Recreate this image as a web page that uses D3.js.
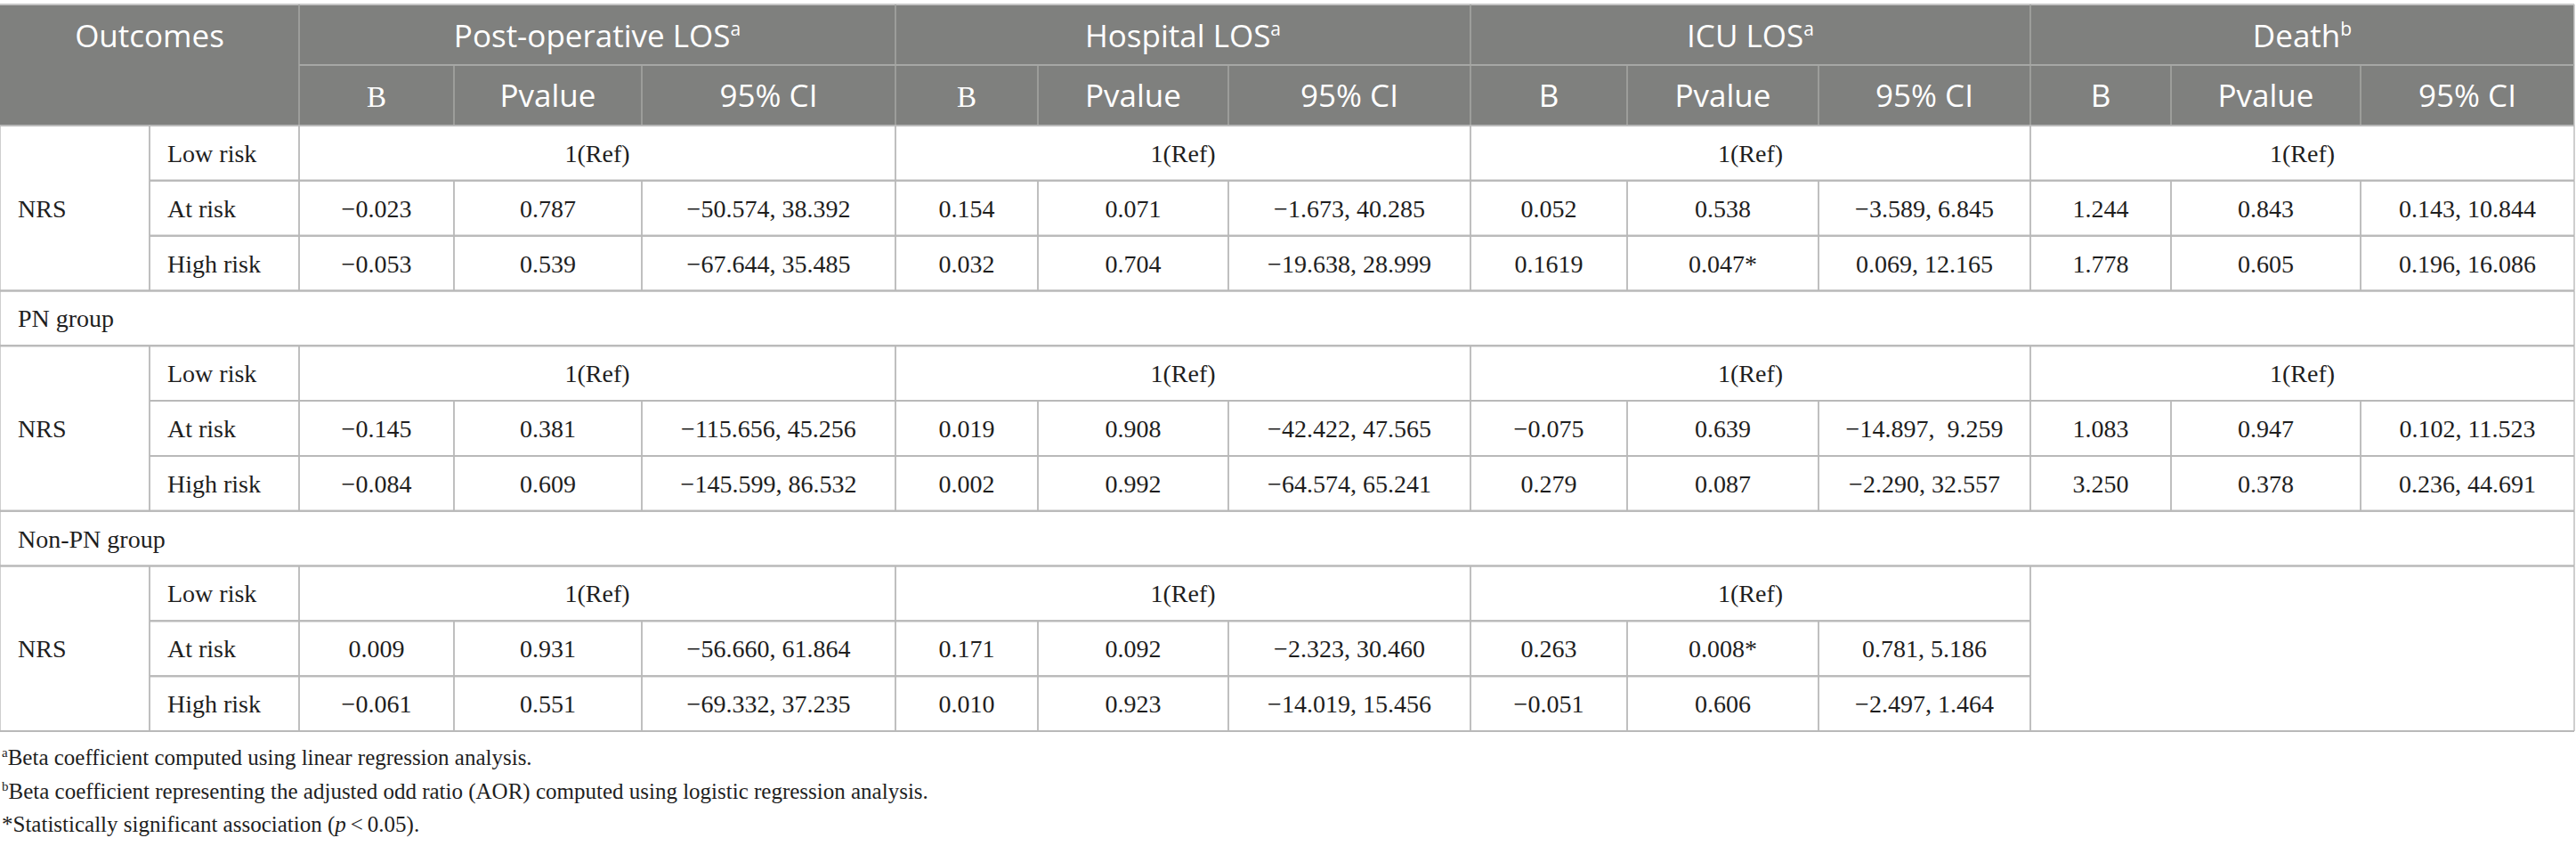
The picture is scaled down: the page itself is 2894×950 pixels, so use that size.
<!DOCTYPE html>
<html><head><meta charset="utf-8">
<script src="https://cdn.jsdelivr.net/npm/d3@7"></script>
<style>body{margin:0;background:#fff}svg{display:block}</style>
</head><body><svg id="chart"></svg>
<script>
// ---------- DATA ----------
const stubHeader = "Outcomes";
const outcomes = ["Post-operative LOS", "Hospital LOS", "ICU LOS", "Death"];
const outcomeNotes = ["a", "a", "a", "b"];
const statLabels = ["B", "Pvalue", "95% CI"];
const scaleName = "NRS";
const riskLevels = ["Low risk", "At risk", "High risk"];
const refLabel = "1(Ref)";
const groupLabels = ["PN group", "Non-PN group"];

// rows: [At risk, High risk]; columns follow outcomes
const allB  = [["−0.023", "0.154", "0.052", "1.244"], ["−0.053", "0.032", "0.1619", "1.778"]];
const allP  = [["0.787", "0.071", "0.538", "0.843"], ["0.539", "0.704", "0.047*", "0.605"]];
const allCI = [["−50.574, 38.392", "−1.673, 40.285", "−3.589, 6.845", "0.143, 10.844"],
               ["−67.644, 35.485", "−19.638, 28.999", "0.069, 12.165", "0.196, 16.086"]];

const pnB  = [["−0.145", "0.019", "−0.075", "1.083"], ["−0.084", "0.002", "0.279", "3.250"]];
const pnP  = [["0.381", "0.908", "0.639", "0.947"], ["0.609", "0.992", "0.087", "0.378"]];
const pnCI = [["−115.656, 45.256", "−42.422, 47.565", "−14.897,  9.259", "0.102, 11.523"],
              ["−145.599, 86.532", "−64.574, 65.241", "−2.290, 32.557", "0.236, 44.691"]];

const nonB  = [["0.009", "0.171", "0.263", null], ["−0.061", "0.010", "−0.051", null]];
const nonP  = [["0.931", "0.092", "0.008*", null], ["0.551", "0.923", "0.606", null]];
const nonCI = [["−56.660, 61.864", "−2.323, 30.460", "0.781, 5.186", null],
               ["−69.332, 37.235", "−14.019, 15.456", "−2.497, 1.464", null]];

const footnoteMarks = ["a", "b", ""];
const footnoteTexts = ["Beta coefficient computed using linear regression analysis.",
  "Beta coefficient representing the adjusted odd ratio (AOR) computed using logistic regression analysis.",
  "*Statistically significant association ("];
const footnoteTail = ["", "", "\u2009<\u20090.05)."];

// ---------- LAYOUT ----------
const W = 2894, H = 950;
const colEdges = [0, 168, 336, 510, 721, 1006, 1166, 1380, 1652, 1828, 2043, 2281, 2439, 2652, 2892];
const headTop = 5, headMid = 73, headBot = 141, bodyBot = 821;
const sans = "'Open Sans', 'Noto Sans', sans-serif";
const serif = "'Liberation Serif', 'Times New Roman', serif";
const headBg = "#7f807e", headLine = "#a6a7a5", bodyLine = "#b9b9b9", ink = "#1e1e1e";

const svg = d3.select("#chart").attr("width", W).attr("height", H);

const x = d3.scaleOrdinal().domain(d3.range(colEdges.length)).range(colEdges);
const y = d3.scaleBand().domain(d3.range(11)).range([headBot, bodyBot]).paddingInner(0).paddingOuter(0);
const yTop = r => y(r);
const yBot = r => y(r) + y.bandwidth();

// ---------- HEADER ----------
const head = svg.append("g");
head.append("rect").attr("x", x(0)).attr("y", headTop)
  .attr("width", x(14) - x(0)).attr("height", headBot - headTop).attr("fill", headBg);
head.append("line").attr("x1", 0).attr("x2", x(14)).attr("y1", headTop).attr("y2", headTop)
  .attr("stroke", "#c6c6c6").attr("stroke-width", 2);
head.append("line").attr("x1", x(14)).attr("x2", x(14)).attr("y1", headTop).attr("y2", headBot)
  .attr("stroke", "#c6c6c6").attr("stroke-width", 1.5);
head.append("line").attr("x1", x(2)).attr("x2", x(14)).attr("y1", headMid).attr("y2", headMid)
  .attr("stroke", headLine).attr("stroke-width", 2);

outcomes.forEach((o, i) => {
  const c0 = 2 + i * 3, c1 = c0 + 3;
  head.append("line").attr("x1", x(c0)).attr("x2", x(c0)).attr("y1", headTop).attr("y2", headBot)
    .attr("stroke", headLine).attr("stroke-width", 1.5);
  const t = head.append("text").attr("x", (x(c0) + x(c1)) / 2).attr("y", 53)
    .attr("text-anchor", "middle").attr("fill", "#fff").attr("font-family", sans).attr("font-size", 35);
  t.append("tspan").text(o);
  t.append("tspan").attr("font-size", 21).attr("dy", -13).text(outcomeNotes[i]);
  statLabels.forEach((s, j) => {
    const c = c0 + j;
    if (j > 0) head.append("line").attr("x1", x(c)).attr("x2", x(c)).attr("y1", headMid).attr("y2", headBot)
      .attr("stroke", headLine).attr("stroke-width", 1.5);
    const isSerif = (j === 0 && i < 2);
    head.append("text").attr("x", (x(c) + x(c + 1)) / 2).attr("y", 120)
      .attr("text-anchor", "middle").attr("fill", "#fff")
      .attr("font-family", isSerif ? serif : sans).attr("font-size", isSerif ? 33 : 35).text(s);
  });
});
head.append("text").attr("x", (x(0) + x(2)) / 2).attr("y", 53).attr("text-anchor", "middle")
  .attr("fill", "#fff").attr("font-family", sans).attr("font-size", 35).text(stubHeader);

// ---------- BODY CELLS ----------
const blocks = [
  { start: 0, B: allB, P: allP, CI: allCI },
  { start: 4, B: pnB, P: pnP, CI: pnCI },
  { start: 8, B: nonB, P: nonP, CI: nonCI }
];
const cells = [];
blocks.forEach(b => {
  cells.push({ c0: 0, c1: 1, r0: b.start, r1: b.start + 2, text: scaleName, align: "left" });
  riskLevels.forEach((rl, i) => cells.push({ c0: 1, c1: 2, r0: b.start + i, r1: b.start + i, text: rl, align: "left" }));
  outcomes.forEach((o, k) => {
    const c0 = 2 + k * 3;
    if (b.B[0][k] === null) {
      cells.push({ c0: c0, c1: c0 + 3, r0: b.start, r1: b.start + 2, text: "", align: "middle" });
      return;
    }
    cells.push({ c0: c0, c1: c0 + 3, r0: b.start, r1: b.start, text: refLabel, align: "middle" });
    [0, 1].forEach(i => {
      const r = b.start + 1 + i;
      [b.B[i][k], b.P[i][k], b.CI[i][k]].forEach((v, j) =>
        cells.push({ c0: c0 + j, c1: c0 + j + 1, r0: r, r1: r, text: v, align: "middle" }));
    });
  });
});
groupLabels.forEach((g, i) => cells.push({ c0: 0, c1: 14, r0: 3 + i * 4, r1: 3 + i * 4, text: g, align: "left" }));

const body = svg.append("g");
const lines = [];
cells.forEach(d => {
  const x0 = x(d.c0), x1 = x(d.c1), y0 = yTop(d.r0), y1 = yBot(d.r1);
  lines.push({ x1: x0, x2: x1, y1: y0, y2: y0, w: 2 });
  lines.push({ x1: x0, x2: x1, y1: y1, y2: y1, w: 2 });
  lines.push({ x1: x0, x2: x0, y1: y0, y2: y1, w: 1.4 });
  lines.push({ x1: x1, x2: x1, y1: y0, y2: y1, w: 1.4 });
});
body.selectAll("line").data(lines).join("line")
  .attr("x1", d => d.x1).attr("x2", d => d.x2).attr("y1", d => d.y1).attr("y2", d => d.y2)
  .attr("stroke", bodyLine).attr("stroke-width", d => d.w);

body.selectAll("text").data(cells.filter(d => d.text)).join("text")
  .attr("x", d => d.align === "left" ? x(d.c0) + 20 : (x(d.c0) + x(d.c1)) / 2)
  .attr("y", d => (yTop(d.r0) + yBot(d.r1)) / 2 + 10)
  .attr("text-anchor", d => d.align === "left" ? "start" : "middle")
  .attr("font-family", serif).attr("font-size", 28).attr("fill", ink)
  .style("white-space", "pre")
  .text(d => d.text);

// ---------- FOOTNOTES ----------
const foot = svg.append("g");
const footBase = [859, 897, 934];
footnoteTexts.forEach((t, i) => {
  const tx = foot.append("text").attr("x", 2).attr("y", footBase[i])
    .attr("font-family", serif).attr("font-size", 25).attr("fill", ink);
  if (footnoteMarks[i]) {
    tx.append("tspan").attr("font-size", 15).attr("dy", -9).text(footnoteMarks[i]);
    tx.append("tspan").attr("dy", 9).text(t);
  } else {
    tx.append("tspan").text(t);
    tx.append("tspan").attr("font-style", "italic").text("p");
    tx.append("tspan").text(footnoteTail[i]);
  }
});
</script>
</body></html>
